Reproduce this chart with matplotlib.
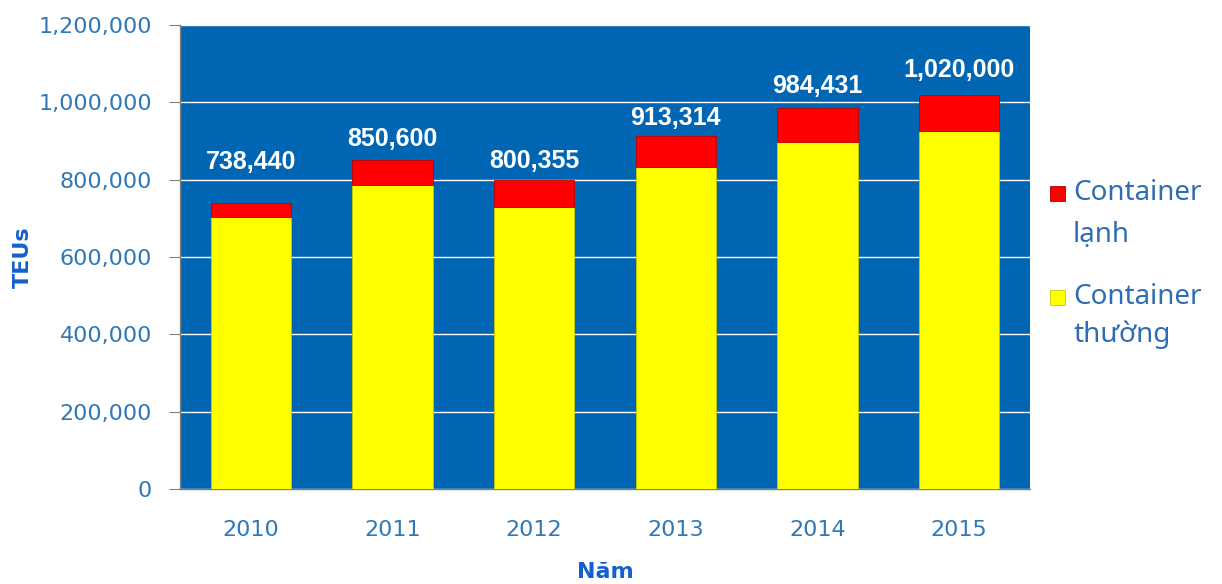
import matplotlib
matplotlib.use("Agg")
import matplotlib.pyplot as plt
from matplotlib.patches import Rectangle
from matplotlib.ticker import FuncFormatter

years = ["2010", "2011", "2012", "2013", "2014", "2015"]
totals = [738440, 850600, 800355, 913314, 984431, 1020000]
container_thuong = [703000, 786000, 729000, 834000, 898000, 926000]
container_lanh = [t - n for t, n in zip(totals, container_thuong)]
total_labels = ["738,440", "850,600", "800,355", "913,314", "984,431", "1,020,000"]
label_offsets_pt = [30, 15, 13, 13, 16, 18]

BG = "#0066B4"
TICK_C = "#2F78B8"
TITLE_C = "#1560D0"

fig = plt.figure(figsize=(12.22, 5.84), dpi=100)
ax = fig.add_axes([180/1222, 1-489/584, 850/1222, 464/584])
ax.set_facecolor(BG)

x = list(range(len(years)))
ax.bar(x, container_thuong, width=0.565, color="#FFFF00", edgecolor="#C8C800", linewidth=0.6, zorder=3)
ax.bar(x, container_lanh, bottom=container_thuong, width=0.565, color="#FF0000", edgecolor="#C00000", linewidth=0.6, zorder=3)

for xi, t, lab, off in zip(x, totals, total_labels, label_offsets_pt):
    ax.annotate(lab, (xi, t), xytext=(0, off), textcoords="offset points",
                ha="center", va="center", color="white", fontsize=18, fontweight="bold",
                family="Liberation Sans", zorder=5)

ax.set_xlim(-0.5, 5.5)
ax.set_ylim(0, 1200000)
ax.set_yticks(range(0, 1200001, 200000))
ax.yaxis.set_major_formatter(FuncFormatter(lambda v, p: f"{int(v):,}"))
ax.grid(axis="y", color="white", linewidth=1.0, zorder=1)
ax.set_axisbelow(True)
ax.set_xticks(x)
ax.set_xticklabels(years)

for s in ["top", "right"]:
    ax.spines[s].set_visible(False)
for s in ["left", "bottom"]:
    ax.spines[s].set_color("#808080")
    ax.spines[s].set_linewidth(1.0)

ax.tick_params(axis="y", length=8, color="#808080", labelcolor=TICK_C, labelsize=16, pad=12)
ax.tick_params(axis="x", length=0, labelcolor=TICK_C, labelsize=16, pad=22)

ax.set_xlabel("N\u0103m", color=TITLE_C, fontsize=16, fontweight="bold", labelpad=16,
              family="DejaVu Sans")
ax.set_ylabel("TEUs", color=TITLE_C, fontsize=16, fontweight="bold", labelpad=4)

# legend
LEG_C = "#2E6DB4"
LF = "Noto Sans"
LS = 20
fig.add_artist(Rectangle((1050/1222, 1-201/584), 15/1222, 15/584, transform=fig.transFigure,
                         facecolor="#FF0000", edgecolor="#B00000", linewidth=0.6))
fig.text(1073/1222, 1-193/584, "Container", color=LEG_C, fontsize=LS, va="center", ha="left", family=LF)
fig.text(1073/1222, 1-235/584, "l\u1ea1nh", color=LEG_C, fontsize=LS, va="center", ha="left", family=LF)
fig.add_artist(Rectangle((1050/1222, 1-305/584), 15/1222, 15/584, transform=fig.transFigure,
                         facecolor="#FFFF00", edgecolor="#C8C800", linewidth=0.6))
fig.text(1073/1222, 1-297/584, "Container", color=LEG_C, fontsize=LS, va="center", ha="left", family=LF)
fig.text(1073/1222, 1-335/584, "th\u01b0\u1eddng", color=LEG_C, fontsize=LS, va="center", ha="left", family=LF)

fig.savefig("out.png", dpi=100, facecolor="white")
